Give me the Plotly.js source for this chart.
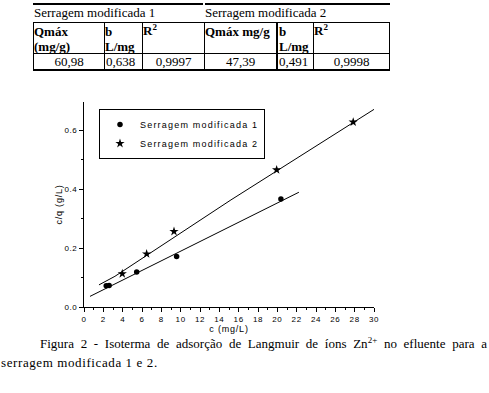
<!DOCTYPE html>
<html>
<head>
<meta charset="utf-8">
<script src="https://cdn.plot.ly/plotly-3.0.1.min.js"></script>
<style>
  html, body { margin:0; padding:0; background:#fff; }
  #wrap { position:relative; width:489px; height:393px; overflow:hidden; }
  #chart { position:absolute; left:0; top:0; width:489px; height:393px; }
  .t { position:absolute; font-family:"Liberation Serif","Times New Roman",serif; font-size:13px; line-height:14px; color:#000; white-space:nowrap; }
  .b { font-weight:bold; }
  .ln { position:absolute; background:#000; }
  .legendtext { letter-spacing:1.2px; }
  .xtick text, .ytick text { letter-spacing:0.6px; }
  .g-xtitle text, .g-ytitle text { letter-spacing:0.8px; }
</style>
</head>
<body>
<div id="wrap">
  <div id="chart"></div>
  <!-- table -->
  <div class="ln" style="left:33px;top:3px;width:170px;height:2px;"></div>
  <div class="ln" style="left:205px;top:3px;width:185px;height:2px;"></div>
  <div class="ln" style="left:33px;top:22px;width:357px;height:1px;"></div>
  <div class="ln" style="left:33px;top:53px;width:357px;height:1px;"></div>
  <div class="ln" style="left:33px;top:69px;width:357px;height:2px;"></div>
  <div class="ln" style="left:33px;top:22px;width:1px;height:48px;"></div>
  <div class="ln" style="left:104px;top:22px;width:1px;height:48px;"></div>
  <div class="ln" style="left:142px;top:22px;width:1px;height:48px;"></div>
  <div class="ln" style="left:204px;top:22px;width:1px;height:48px;"></div>
  <div class="ln" style="left:276px;top:22px;width:2px;height:48px;"></div>
  <div class="ln" style="left:313px;top:22px;width:1px;height:48px;"></div>
  <div class="ln" style="left:389px;top:22px;width:1px;height:48px;"></div>

  <div class="t" style="left:34px;top:6px;">Serragem modificada 1</div>
  <div class="t" style="left:205px;top:6px;">Serragem modificada 2</div>

  <div class="t b" style="left:34px;top:25px;">Qmáx</div>
  <div class="t b" style="left:34px;top:40px;">(mg/g)</div>
  <div class="t b" style="left:105px;top:25px;">b</div>
  <div class="t b" style="left:105px;top:40px;">L/mg</div>
  <div class="t b" style="left:143px;top:24px;">R<sup style="font-size:9px;line-height:0;">2</sup></div>
  <div class="t b" style="left:205px;top:25px;">Qmáx mg/g</div>
  <div class="t b" style="left:279px;top:25px;">b</div>
  <div class="t b" style="left:279px;top:40px;">L/mg</div>
  <div class="t b" style="left:314px;top:24px;">R<sup style="font-size:9px;line-height:0;">2</sup></div>

  <div class="t" style="left:34px;top:55px;width:70px;text-align:center;">60,98</div>
  <div class="t" style="left:106px;top:55px;">0,638</div>
  <div class="t" style="left:143px;top:55px;width:61px;text-align:center;">0,9997</div>
  <div class="t" style="left:205px;top:55px;width:71px;text-align:center;">47,39</div>
  <div class="t" style="left:279px;top:55px;">0,491</div>
  <div class="t" style="left:314px;top:55px;width:75px;text-align:center;">0,9998</div>

  <!-- caption -->
  <div class="t" style="left:40px;top:337px;width:447px;text-align:justify;text-align-last:justify;white-space:normal;">Figura 2 - Isoterma de adsorção de Langmuir de íons Zn<sup style="font-size:9px;line-height:0;">2+</sup> no efluente para a</div>
  <div class="t" style="left:1px;top:356px;letter-spacing:0.6px;">serragem modificada 1 e 2.</div>
</div>
<script>
// Series 1 (circles)
const s1_c = [2.3, 2.6, 5.45, 9.58, 20.37];
const s1_q = [0.072, 0.073, 0.119, 0.171, 0.366];
// Series 2 (stars)
const s2_c = [3.96, 6.48, 9.31, 19.93, 27.85];
const s2_q = [0.113, 0.180, 0.256, 0.465, 0.627];
// Fitted lines
const fit1_c = [0.62, 22.23];
const fit1_q = [0.036, 0.389];
const fit2_c = [1.55, 3.2, 15.2, 30.0];
const fit2_q = [0.075, 0.104, 0.363, 0.670];

const names = ['Serragem modificada 1', 'Serragem modificada 2'];

const traces = [
  {x: fit1_c, y: fit1_q, mode:'lines', line:{color:'#000', width:1}, showlegend:false, hoverinfo:'skip'},
  {x: fit2_c, y: fit2_q, mode:'lines', line:{color:'#000', width:1}, showlegend:false, hoverinfo:'skip'},
  {x: s1_c, y: s1_q, mode:'markers', name: names[0], marker:{symbol:'circle', size:5.5, color:'#000'}},
  {x: s2_c, y: s2_q, mode:'markers', name: names[1], marker:{symbol:'star', size:7, color:'#000'}}
];

const sansFont = '"Liberation Sans", Arial, sans-serif';
const tickFont = {family:sansFont, size:8, color:'#000'};

const layout = {
  width:489, height:393,
  margin:{l:84, r:115, t:102, b:86},
  paper_bgcolor:'rgba(0,0,0,0)', plot_bgcolor:'rgba(0,0,0,0)',
  showlegend:true,
  legend:{x:0.0517, y:0.966, xanchor:'left', yanchor:'top', bgcolor:'#fff', bordercolor:'#000', borderwidth:1,
          font:{family:sansFont, size:9, color:'#000'}, tracegroupgap:0, itemwidth:30},
  xaxis:{range:[0,30], dtick:2, tick0:0, ticks:'outside', ticklen:4, tickwidth:1, tickcolor:'#000',
         showline:true, linecolor:'#000', linewidth:1, showgrid:false, zeroline:false,
         minor:{dtick:1, ticks:'outside', ticklen:2, tickcolor:'#000', showgrid:false},
         tickfont:tickFont, title:{text:'c (mg/L)', font:{family:sansFont, size:9, color:'#000'}, standoff:2}},
  yaxis:{range:[0,0.695], dtick:0.2, tick0:0, tickformat:'.1f', ticks:'outside', ticklen:4, tickwidth:1, tickcolor:'#000',
         showline:true, linecolor:'#000', linewidth:1, showgrid:false, zeroline:false,
         minor:{dtick:0.1, ticks:'outside', ticklen:2, tickcolor:'#000', showgrid:false},
         tickfont:tickFont, title:{text:'c/q (g/L)', font:{family:sansFont, size:9, color:'#000'}, standoff:0}}
};

Plotly.newPlot('chart', traces, layout, {displayModeBar:false, staticPlot:true});
</script>
</body>
</html>
